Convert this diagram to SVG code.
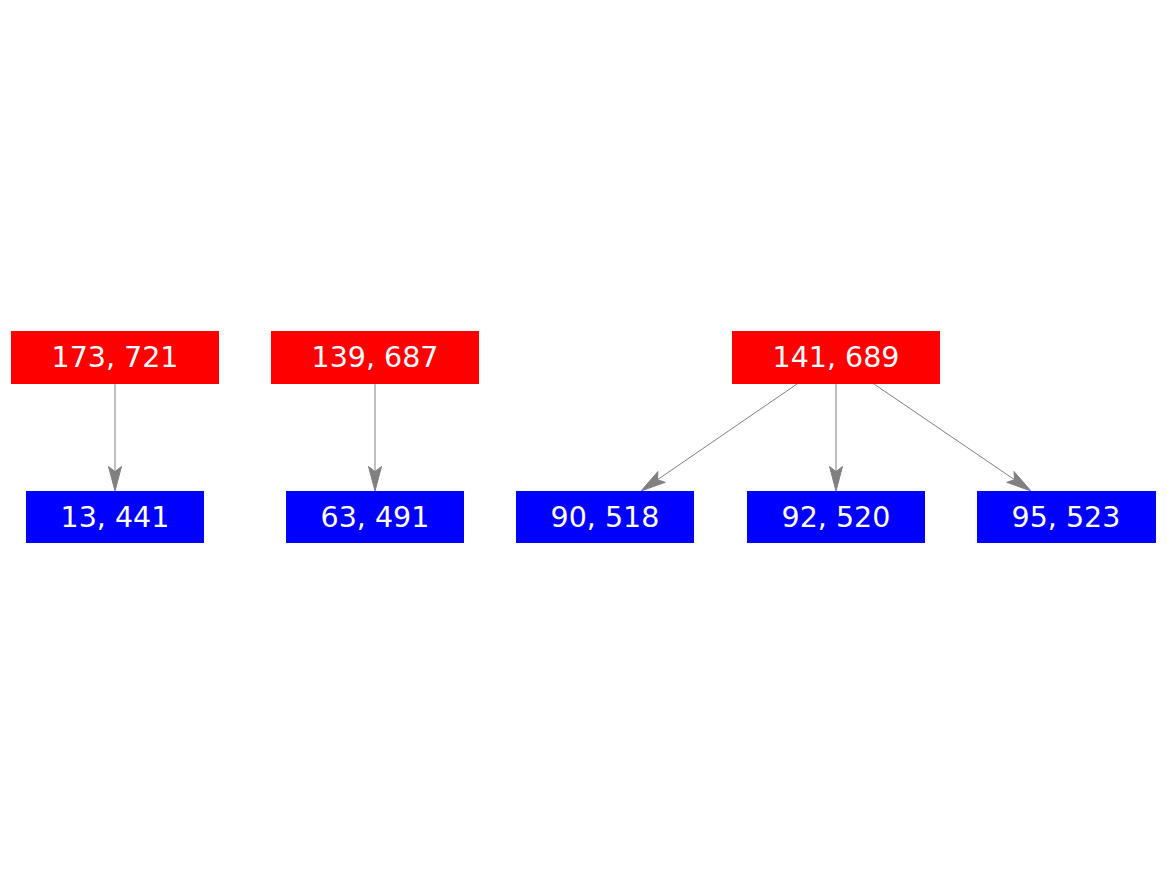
<svg xmlns="http://www.w3.org/2000/svg" width="1167" height="875" viewBox="0 0 1167 875">
<style>
.r{fill:#ff0000}
.b{fill:#0000ff}
text{font-family:"DejaVu Sans",sans-serif;font-size:28.5px;fill:#ffffff;text-anchor:middle}
.e{stroke:#808080;stroke-width:1;fill:none}
.h{fill:#808080;stroke:#808080;stroke-width:1}
</style>
<rect width="1167" height="875" fill="#ffffff"/>
<g id="edges">
<line class="e" x1="115" y1="384" x2="115" y2="472"/>
<polygon class="h" points="108.5,466.5 115,471.5 121.5,466.5 115,491"/>
<line class="e" x1="375" y1="384" x2="375" y2="472"/>
<polygon class="h" points="368.5,466.5 375,471.5 381.5,466.5 375,491"/>
<line class="e" x1="836" y1="384" x2="836" y2="472"/>
<polygon class="h" points="829.5,466.5 836,471.5 842.5,466.5 836,491"/>
<line class="e" x1="797" y1="384" x2="657.5" y2="479.7"/>
<polygon class="h" points="665.3,482.3 657.5,479.7 657.9,471.5 641,491"/>
<line class="e" x1="874" y1="384" x2="1014.5" y2="479.7"/>
<polygon class="h" points="1006.7,482.3 1014.5,479.7 1014,471.5 1031,491"/>
</g>
<g id="n1"><rect class="r" x="11" y="331" width="208" height="53"/><text x="115" y="367">173, 721</text></g>
<g id="n2"><rect class="b" x="26" y="491" width="178" height="52"/><text x="115" y="527">13, 441</text></g>
<g id="n3"><rect class="r" x="271" y="331" width="208" height="53"/><text x="375" y="367">139, 687</text></g>
<g id="n4"><rect class="b" x="286" y="491" width="178" height="52"/><text x="375" y="527">63, 491</text></g>
<g id="n5"><rect class="r" x="732" y="331" width="208" height="53"/><text x="836" y="367">141, 689</text></g>
<g id="n6"><rect class="b" x="516" y="491" width="178" height="52"/><text x="605" y="527">90, 518</text></g>
<g id="n7"><rect class="b" x="747" y="491" width="178" height="52"/><text x="836" y="527">92, 520</text></g>
<g id="n8"><rect class="b" x="977" y="491" width="179" height="52"/><text x="1066" y="527">95, 523</text></g>
</svg>
